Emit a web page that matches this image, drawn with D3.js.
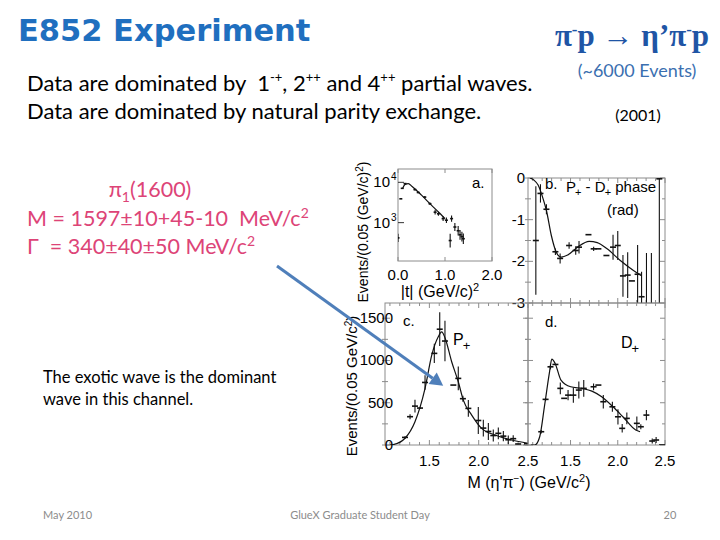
<!DOCTYPE html>
<html><head><meta charset="utf-8">
<script src="https://cdn.jsdelivr.net/npm/d3@7"></script>
<style>body{margin:0;background:#fff}svg{display:block}text{white-space:pre}</style>
</head><body><svg id="c" width="720" height="540"></svg>
<script>
// ---------------- data ----------------
// panel a : |t| distribution (log scale)
const tA        = [0.00, 0.06, 0.09, 0.15, 0.36, 0.43, 0.57, 0.68, 0.79, 0.86, 0.96, 1.03, 1.11, 1.14, 1.21, 1.28, 1.32, 1.36, 1.39];
const countsA   = [420, 3900, 7100, 9300, 6600, 5600, 4300, 2950, 1820, 1660, 1260, 1150, 360, 1260, 780, 630, 500, 450, 400];
const errDecA   = [0.10, 0, 0, 0, 0.02, 0.02, 0.03, 0.03, 0.06, 0.05, 0.06, 0.07, 0.17, 0.08, 0.10, 0.12, 0.12, 0.12, 0.13];
const curveTA      = [0.10, 0.15, 0.22, 0.30, 0.50, 0.70, 0.90, 1.00];
const curveCountsA = [7100, 8900, 9300, 7900, 4800, 2800, 1660, 1260];

// panel b : P+ - D+ phase (rad)
const massB  = [1.133, 1.182, 1.245, 1.34, 1.39, 1.485, 1.555, 1.59, 1.69, 1.745, 1.795, 1.88, 1.95, 2.00, 2.055, 2.105, 2.15, 2.21, 2.252, 2.304, 2.356, 2.44];
const phaseB = [-1.50, -0.37, -0.75, -1.77, -1.93, -1.62, -1.74, -1.66, -1.36, -1.70, -1.70, -1.86, -1.66, -1.62, -2.35, -2.33, -2.47, -2.31, -2.85, -3.30, -3.30, -0.02];
const errB   = [1.30, 0.22, 0.12, 0.08, 0.12, 0.08, 0.10, 0.15, 0, 0.05, 0, 0, 0.30, 0.35, 0.50, 0.55, 0, 0.70, 0.60, 1.50, 1.50, 3.00];
const curveMassB  = [1.071, 1.113, 1.157, 1.21, 1.245, 1.297, 1.349, 1.401, 1.47, 1.574, 1.697, 1.783, 1.887, 2.027, 2.166, 2.252];
const curvePhaseB = [0, -0.05, -0.17, -0.50, -0.78, -1.38, -1.78, -1.90, -1.85, -1.66, -1.52, -1.55, -1.70, -1.98, -2.22, -2.35];

// panel c : P+ wave intensity
const massC   = [1.253, 1.304, 1.354, 1.405, 1.456, 1.55, 1.605, 1.658, 1.743, 1.793, 1.84, 1.895, 1.996, 2.047, 2.098, 2.148, 2.199, 2.25, 2.30, 2.35, 2.40, 2.49];
const countsC = [90, 335, 460, 437, 740, 1084, 1370, 1230, 709, 788, 548, 433, 290, 200, 160, 112, 138, 105, 62, 75, 12, 15];
const errC    = [15, 30, 75, 10, 85, 115, 200, 240, 0, 140, 35, 100, 160, 100, 100, 70, 70, 60, 50, 40, 0, 8];
const curveMassC   = [1.10, 1.134, 1.253, 1.354, 1.456, 1.524, 1.59, 1.625, 1.658, 1.726, 1.793, 1.844, 1.929, 2.03, 2.166, 2.335, 2.50];
const curveCountsC = [0, 5, 80, 275, 670, 1063, 1280, 1338, 1270, 985, 748, 531, 354, 197, 118, 59, 20];

// panel d : D+ wave intensity
const massD   = [1.19, 1.236, 1.288, 1.34, 1.392, 1.433, 1.474, 1.53, 1.588, 1.64, 1.744, 1.795, 1.847, 1.943, 2.002, 2.047, 2.096, 2.202, 2.244, 2.303, 2.365, 2.406, 2.468];
const countsD = [157, 540, 925, 953, 670, 552, 590, 590, 650, 670, 689, 709, 512, 452, 334, 197, 315, 256, 216, 354, 47, 59, 0];
const errD    = [20, 15, 30, 0, 70, 0, 60, 90, 100, 100, 40, 0, 80, 60, 90, 50, 70, 80, 30, 60, 30, 35, 0];
const curveMassD   = [1.08, 1.122, 1.174, 1.226, 1.278, 1.302, 1.337, 1.399, 1.502, 1.622, 1.726, 1.83, 1.95, 2.054, 2.19, 2.236];
const curveCountsD = [0, 0, 98, 472, 866, 1016, 965, 768, 689, 669, 638, 571, 452, 334, 177, 157];

// tick values / labels
const tTicks      = [0, 1, 2];
const logTicks    = [1000, 10000];
const logTickExp  = ["3", "4"];
const phaseTicks  = [0, -1, -2, -3];
const phaseMinor  = [-0.5, -1.5, -2.5];
const countTicks  = [0, 500, 1000, 1500];
const countMinor  = [250, 750, 1250];
const massTicks   = [1.5, 2.0, 2.5];
const massMinor   = [1.1, 1.2, 1.3, 1.4, 1.6, 1.7, 1.8, 1.9, 2.1, 2.2, 2.3, 2.4];

// ---------------- drawing ----------------
const svg = d3.select("#c");
svg.append("rect").attr("width", 720).attr("height", 540).attr("fill", "#fff");
const AX = "'Liberation Sans', Arial, sans-serif";
const TXT = "Lato, 'Open Sans', sans-serif";
const frameCol = "#8c8c8c";

const xA = d3.scaleLinear().domain([0, 2]).range([398, 492]);
const yA = d3.scaleLog().domain([112, 21400]).range([261, 169]);
const xB = d3.scaleLinear().domain([1.05, 2.5]).range([528, 665]);
const yB = d3.scaleLinear().domain([-3, 0]).range([303, 178]);
const xC = d3.scaleLinear().domain([1.05, 2.5]).range([385, 528]);
const yC = d3.scaleLinear().domain([0, 1680]).range([445, 303]);
const xD = d3.scaleLinear().domain([1.05, 2.5]).range([528, 665]);
const yD = yC;

const defs = svg.append("defs");
function clip(id, x, y) {
  defs.append("clipPath").attr("id", id).append("rect")
    .attr("x", x.range()[0]).attr("y", y.range()[1])
    .attr("width", x.range()[1] - x.range()[0]).attr("height", y.range()[0] - y.range()[1]);
}
clip("cA", xA, yA); clip("cB", xB, yB); clip("cC", xC, yC); clip("cD", xD, yD);

function frame(x, y) {
  svg.append("rect").attr("x", x.range()[0]).attr("y", y.range()[1])
    .attr("width", x.range()[1] - x.range()[0]).attr("height", y.range()[0] - y.range()[1])
    .attr("fill", "none").attr("stroke", frameCol).attr("stroke-width", 1);
}
function ticksX(x, y, vals, len) {
  svg.append("g").selectAll("line").data(vals).join("line")
    .attr("x1", d => x(d)).attr("x2", d => x(d))
    .attr("y1", y.range()[0]).attr("y2", y.range()[0] - len)
    .attr("stroke", frameCol);
  svg.append("g").selectAll("line").data(vals).join("line")
    .attr("x1", d => x(d)).attr("x2", d => x(d))
    .attr("y1", y.range()[1]).attr("y2", y.range()[1] + len)
    .attr("stroke", frameCol);
}
function ticksY(x, y, vals, len) {
  svg.append("g").selectAll("line").data(vals).join("line")
    .attr("x1", x.range()[0] - 3).attr("x2", x.range()[0] + len)
    .attr("y1", d => y(d)).attr("y2", d => y(d)).attr("stroke", frameCol);
  svg.append("g").selectAll("line").data(vals).join("line")
    .attr("x1", x.range()[1] - len).attr("x2", x.range()[1])
    .attr("y1", d => y(d)).attr("y2", d => y(d)).attr("stroke", frameCol);
}
function points(id, xs, ys, es, x, y, hw, lo, hi) {
  const g = svg.append("g").attr("clip-path", `url(#${id})`).attr("stroke", "#111").attr("stroke-width", 1.1);
  const idx = d3.range(xs.length);
  g.selectAll("line.v").data(idx.filter(i => es[i] > 0)).join("line").attr("class", "v")
    .attr("x1", i => x(xs[i])).attr("x2", i => x(xs[i]))
    .attr("y1", i => y(lo(ys[i], es[i]))).attr("y2", i => y(hi(ys[i], es[i])));
  g.selectAll("line.h").data(idx).join("line").attr("class", "h")
    .attr("x1", i => x(xs[i]) - hw).attr("x2", i => x(xs[i]) + hw)
    .attr("y1", i => y(ys[i])).attr("y2", i => y(ys[i])).attr("stroke-width", 1.6);
}
function curve(id, xs, ys, x, y) {
  svg.append("path").attr("clip-path", `url(#${id})`)
    .datum(d3.range(xs.length))
    .attr("d", d3.line().x(i => x(xs[i])).y(i => y(ys[i])).curve(d3.curveMonotoneX))
    .attr("fill", "none").attr("stroke", "#111").attr("stroke-width", 1.2);
}
const linLo = (v, e) => v - e, linHi = (v, e) => v + e;
const logLo = (v, e) => v / Math.pow(10, e), logHi = (v, e) => v * Math.pow(10, e);

// panel a
frame(xA, yA);
ticksX(xA, yA, tTicks, 4);
svg.append("g").selectAll("line").data(logTicks).join("line")
  .attr("x1", xA.range()[0]).attr("x2", xA.range()[0] + 6)
  .attr("y1", d => yA(d)).attr("y2", d => yA(d)).attr("stroke", "#333");
curve("cA", curveTA, curveCountsA, xA, yA);
points("cA", tA, countsA, errDecA, xA, yA, 1.5, logLo, logHi);
svg.append("g").selectAll("text").data(tTicks).join("text")
  .attr("x", d => xA(d)).attr("y", 280).attr("text-anchor", "middle")
  .attr("font-family", AX).attr("font-size", 15).text(d => d3.format(".1f")(d));
logTicks.forEach((v, i) => {
  svg.append("text").attr("x", 390).attr("y", yA(v) + 5).attr("text-anchor", "end")
    .attr("font-family", AX).attr("font-size", 15).text("10");
  svg.append("text").attr("x", 391).attr("y", yA(v) - 2).attr("font-family", AX).attr("font-size", 10).text(logTickExp[i]);
});
svg.append("text").attr("x", 472).attr("y", 188).attr("font-family", AX).attr("font-size", 15).text("a.");
const xlA = svg.append("text").attr("x", 440).attr("y", 297).attr("text-anchor", "middle").attr("font-family", AX).attr("font-size", 16);
xlA.append("tspan").text("|t| (GeV/c)");
xlA.append("tspan").attr("dy", -6).attr("font-size", 11).text("2");
const ylA = svg.append("text").attr("transform", "translate(368,232) rotate(-90)").attr("text-anchor", "middle").attr("font-family", AX).attr("font-size", 14);
ylA.append("tspan").text("Events/(0.05 (GeV/c)");
ylA.append("tspan").attr("dy", -5).attr("font-size", 10).text("2");
ylA.append("tspan").attr("dy", 5).text(")");

// panel b
frame(xB, yB);
ticksX(xB, yB, massMinor, 3);
ticksX(xB, yB, massTicks, 5);
ticksY(xB, yB, phaseMinor, 3);
ticksY(xB, yB, phaseTicks, 5);
curve("cB", curveMassB, curvePhaseB, xB, yB);
points("cB", massB, phaseB, errB, xB, yB, 3, linLo, linHi);
svg.append("g").selectAll("text").data(phaseTicks).join("text")
  .attr("x", 525).attr("y", d => yB(d) + 5).attr("text-anchor", "end")
  .attr("font-family", AX).attr("font-size", 15).text(d => d === 0 ? "0" : "-" + Math.abs(d));
svg.append("text").attr("x", 545).attr("y", 189).attr("font-family", AX).attr("font-size", 15).text("b.");
const ph = svg.append("text").attr("x", 566).attr("y", 192).attr("font-family", AX).attr("font-size", 15);
ph.append("tspan").text("P");
ph.append("tspan").attr("dy", 4).attr("dx", -1).attr("font-size", 11).text("+");
ph.append("tspan").attr("dy", -4).text(" - D");
ph.append("tspan").attr("dy", 4).attr("dx", -1).attr("font-size", 11).text("+");
ph.append("tspan").attr("dy", -4).text(" phase");
svg.append("text").attr("x", 607).attr("y", 215).attr("font-family", AX).attr("font-size", 15).text("(rad)");

// panel c
frame(xC, yC);
ticksX(xC, yC, massMinor, 3);
ticksX(xC, yC, massTicks, 5);
ticksY(xC, yC, countMinor, 3);
ticksY(xC, yC, countTicks, 5);
curve("cC", curveMassC, curveCountsC, xC, yC);
points("cC", massC, countsC, errC, xC, yC, 3, linLo, linHi);
svg.append("g").selectAll("text").data(countTicks).join("text")
  .attr("x", 393).attr("y", d => yC(d) + 5).attr("text-anchor", "end")
  .attr("font-family", AX).attr("font-size", 15).text(d => d);
svg.append("g").selectAll("text").data(massTicks).join("text")
  .attr("x", d => xC(d)).attr("y", 466).attr("text-anchor", "middle")
  .attr("font-family", AX).attr("font-size", 15).text(d => d3.format(".1f")(d));
svg.append("text").attr("x", 403).attr("y", 326).attr("font-family", AX).attr("font-size", 15).text("c.");
const pp = svg.append("text").attr("x", 453).attr("y", 345).attr("font-family", AX).attr("font-size", 16);
pp.append("tspan").text("P");
pp.append("tspan").attr("dy", 5).attr("dx", -1).attr("font-size", 13).text("+");
const ylC = svg.append("text").attr("transform", "translate(357,386) rotate(-90)").attr("text-anchor", "middle").attr("font-family", AX).attr("font-size", 15);
ylC.append("tspan").text("Events/(0.05 GeV/c");
ylC.append("tspan").attr("dy", -5).attr("font-size", 10).text("2");
ylC.append("tspan").attr("dy", 5).text(")");

// panel d
frame(xD, yD);
ticksX(xD, yD, massMinor, 3);
ticksX(xD, yD, massTicks, 5);
ticksY(xD, yD, countMinor, 3);
ticksY(xD, yD, countTicks, 5);
curve("cD", curveMassD, curveCountsD, xD, yD);
points("cD", massD, countsD, errD, xD, yD, 3, linLo, linHi);
svg.append("g").selectAll("text").data(massTicks).join("text")
  .attr("x", d => xD(d)).attr("y", 466).attr("text-anchor", "middle")
  .attr("font-family", AX).attr("font-size", 15).text(d => d3.format(".1f")(d));
svg.append("text").attr("x", 545).attr("y", 327).attr("font-family", AX).attr("font-size", 15).text("d.");
const dp = svg.append("text").attr("x", 621).attr("y", 348).attr("font-family", AX).attr("font-size", 16);
dp.append("tspan").text("D");
dp.append("tspan").attr("dy", 5).attr("dx", -1).attr("font-size", 13).text("+");
const xlC = svg.append("text").attr("x", 529).attr("y", 488).attr("text-anchor", "middle").attr("font-family", AX).attr("font-size", 16);
xlC.append("tspan").text("M (η'π");
xlC.append("tspan").attr("dy", -6).attr("font-size", 10).text("−");
xlC.append("tspan").attr("dy", 6).text(") (GeV/c");
xlC.append("tspan").attr("dy", -6).attr("font-size", 11).text("2");
xlC.append("tspan").attr("dy", 6).text(")");

// arrow annotation (tip points into panel c)
const tipX = xC(1.64), tipY = yC(700);
const sx = 277, sy = 266;
const ang = Math.atan2(tipY - sy, tipX - sx);
const L = 13, W = 7;
const bx = tipX - L * Math.cos(ang), by = tipY - L * Math.sin(ang);
svg.append("line").attr("x1", sx).attr("y1", sy).attr("x2", bx).attr("y2", by)
  .attr("stroke", "#4F7FBA").attr("stroke-width", 3);
svg.append("polygon").attr("fill", "#4F7FBA").attr("points", [
  [tipX, tipY],
  [bx + W * Math.sin(ang), by - W * Math.cos(ang)],
  [bx - W * Math.sin(ang), by + W * Math.cos(ang)]
].map(p => p.join(",")).join(" "));

// ---------------- slide texts ----------------
svg.append("text").attr("x", 18).attr("y", 41).attr("font-family", "'DejaVu Sans', sans-serif")
  .attr("font-weight", "bold").attr("font-size", 30.5).attr("fill", "#1F6FBF").text("E852 Experiment");

const rx = svg.append("text").attr("x", 632).attr("y", 46).attr("text-anchor", "middle")
  .attr("font-family", "'Liberation Serif', serif").attr("font-weight", "bold").attr("font-size", 31).attr("fill", "#1F55A5");
rx.append("tspan").text("π");
rx.append("tspan").attr("dy", -11).attr("font-size", 17).text("-");
rx.append("tspan").attr("dy", 11).text("p → η’π");
rx.append("tspan").attr("dy", -11).attr("font-size", 17).text("-");
rx.append("tspan").attr("dy", 11).text("p");
svg.append("text").attr("x", 637).attr("y", 77).attr("text-anchor", "middle").attr("font-family", TXT)
  .attr("font-size", 18).attr("fill", "#3B6FB0").text("(~6000 Events)");
svg.append("text").attr("x", 638).attr("y", 121).attr("text-anchor", "middle").attr("font-family", TXT)
  .attr("font-size", 16).attr("fill", "#000").text("(2001)");

const l1 = svg.append("text").attr("x", 27).attr("y", 91).attr("font-family", TXT).attr("font-size", 22).attr("fill", "#000");
l1.append("tspan").text("Data are dominated by  1");
l1.append("tspan").attr("dy", -9).attr("font-size", 13).text("-+");
l1.append("tspan").attr("dy", 9).text(", 2");
l1.append("tspan").attr("dy", -9).attr("font-size", 13).text("++");
l1.append("tspan").attr("dy", 9).text(" and 4");
l1.append("tspan").attr("dy", -9).attr("font-size", 13).text("++");
l1.append("tspan").attr("dy", 9).text(" partial waves.");
svg.append("text").attr("x", 27).attr("y", 119).attr("font-family", TXT).attr("font-size", 22).attr("fill", "#000")
  .text("Data are dominated by natural parity exchange.");

const pink = "#DD4477";
const p1 = svg.append("text").attr("x", 150).attr("y", 197).attr("text-anchor", "middle").attr("font-family", TXT).attr("font-size", 21.5).attr("fill", pink);
p1.append("tspan").text("π");
p1.append("tspan").attr("dy", 5).attr("font-size", 14).text("1");
p1.append("tspan").attr("dy", -5).text("(1600)");
const p2 = svg.append("text").attr("x", 27).attr("y", 226).attr("font-family", TXT).attr("font-size", 21.5).attr("fill", pink);
p2.append("tspan").text("M = 1597±10+45-10  MeV/c");
p2.append("tspan").attr("dy", -8).attr("font-size", 14).text("2");
const p3 = svg.append("text").attr("x", 27).attr("y", 254).attr("font-family", TXT).attr("font-size", 21.5).attr("fill", pink);
p3.append("tspan").text("Γ  = 340±40±50 MeV/c");
p3.append("tspan").attr("dy", -8).attr("font-size", 14).text("2");

svg.append("text").attr("x", 43).attr("y", 383).attr("font-family", TXT).attr("font-size", 16.5).text("The exotic wave is the dominant");
svg.append("text").attr("x", 43).attr("y", 405).attr("font-family", TXT).attr("font-size", 16.5).text("wave in this channel.");

const foot = "#8c8c8c";
svg.append("text").attr("x", 43).attr("y", 519).attr("font-family", TXT).attr("font-size", 11).attr("fill", foot).text("May 2010");
svg.append("text").attr("x", 360).attr("y", 519).attr("text-anchor", "middle").attr("font-family", TXT).attr("font-size", 11).attr("fill", foot).text("GlueX Graduate Student Day");
svg.append("text").attr("x", 670).attr("y", 519).attr("text-anchor", "middle").attr("font-family", TXT).attr("font-size", 11).attr("fill", foot).text("20");
</script></body></html>
